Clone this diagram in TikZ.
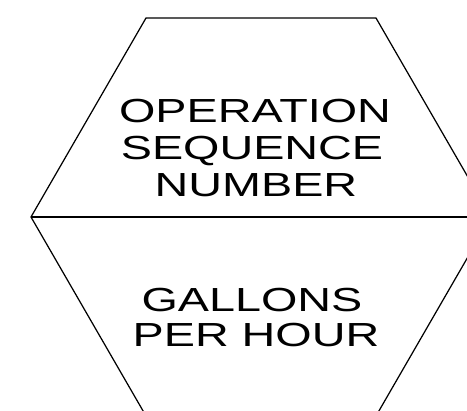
\documentclass[tikz,border=0pt]{standalone}
\usepackage{fontspec}
\setmainfont{Liberation Sans}[FakeStretch=1.4]

\begin{document}
\begin{tikzpicture}[
    x=0.02cm, y=-0.02cm,
    outline/.style={draw=black, line width=0.7pt, line join=miter},
    lettering/.style={font=\fontsize{19}{21}\selectfont, anchor=base, inner sep=0pt}
]
\useasboundingbox (0,0) rectangle (467,411);
\clip (0,0) rectangle (467,411);

% hexagon corners
\coordinate (left) at (31,217);
\coordinate (topleft) at (146,18);
\coordinate (topright) at (376,18);
\coordinate (right) at (491,217);
\coordinate (botright) at (376,416);
\coordinate (botleft) at (146,416);

\draw[outline] (left) -- (topleft) -- (topright) -- (right)
    -- (botright) -- (botleft) -- cycle;
\draw[outline] (left) -- (right);

\node[lettering] (op) at (255,123) {OPERATION};
\node[lettering] (seq) at (252,160) {SEQUENCE};
\node[lettering] (num) at (256,197) {NUMBER};

\node[lettering] (gal) at (252,312) {GALLONS};
\node[lettering] (gph) at (256,347) {PER HOUR};

\end{tikzpicture}
\end{document}
